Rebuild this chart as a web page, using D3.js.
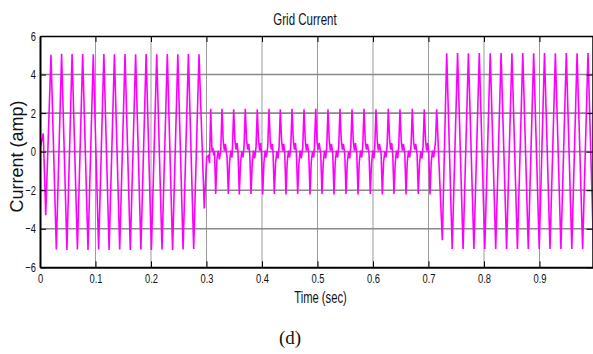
<!DOCTYPE html>
<html>
<head>
<meta charset="utf-8">
<script src="https://cdn.jsdelivr.net/npm/d3@7"></script>
<style>
  body { margin: 0; background: #fff; }
  svg { display: block; }
</style>
</head>
<body>
<svg id="chart" width="593" height="354"></svg>
<script>
// grid current, [time (s), current (A)] vertices
const startUp = [
  [0.0000, 0.15], [0.0059, 0.95], [0.0103, -3.30], [0.0198, 5.02],
  [0.0294, -5.08], [0.0389, 5.08], [0.0485, -5.10], [0.0578, 5.06],
  [0.0674, -5.08], [0.0769, 5.06], [0.0865, -5.10], [0.0960, 5.05],
  [0.1056, -5.08], [0.1151, 5.06], [0.1245, -5.10], [0.1341, 5.05],
  [0.1436, -5.08], [0.1532, 5.06], [0.1627, -5.10], [0.1723, 5.05],
  [0.1818, -5.08], [0.1912, 5.06], [0.2007, -5.10], [0.2103, 5.05],
  [0.2198, -5.08], [0.2294, 5.06], [0.2389, -5.10], [0.2483, 5.05],
  [0.2578, -5.08], [0.2674, 5.06], [0.2769, -5.05], [0.2865, 5.05],
  [0.2960, -2.95]
];

const lowLoad = [
  [0.3003, -0.30], [0.3036, -0.20], [0.3054, -0.60],
  [0.3076, 2.22], [0.3098, 0.05], [0.3115, 0.20], [0.3130, -0.20], [0.3144, 0.05],
  [0.3166, -2.20], [0.3188, -0.40], [0.3211, 0.05], [0.3232, -0.40], [0.3257, 0.05],
  [0.3279, 2.22], [0.3301, 0.55], [0.3322, 0.05], [0.3341, 0.40], [0.3371, -0.30],
  [0.3393, -2.20], [0.3415, -0.55], [0.3438, 0.05], [0.3459, -0.30], [0.3468, 0.25],
  [0.3490, 2.20], [0.3512, 0.60], [0.3533, 0.10], [0.3552, 0.45], [0.3569, -0.10],
  [0.3591, -2.22], [0.3613, -0.55], [0.3636, 0.00], [0.3657, -0.30], [0.3677, 0.30],
  [0.3699, 2.22], [0.3721, 0.65], [0.3742, 0.10], [0.3761, 0.40], [0.3780, -0.15],
  [0.3802, -2.20], [0.3824, -0.60], [0.3847, 0.05], [0.3868, -0.35], [0.3893, 0.25],
  [0.3915, 2.20], [0.3937, 0.60], [0.3958, 0.05], [0.3977, 0.45], [0.3991, -0.10],
  [0.4013, -2.22], [0.4035, -0.55], [0.4058, 0.05], [0.4079, -0.30], [0.4104, 0.30],
  [0.4126, 2.22], [0.4148, 0.55], [0.4169, 0.10], [0.4188, 0.40], [0.4200, -0.15],
  [0.4222, -2.20], [0.4244, -0.60], [0.4267, 0.00], [0.4288, -0.35], [0.4308, 0.25],
  [0.4330, 2.20], [0.4352, 0.60], [0.4373, 0.05], [0.4392, 0.40], [0.4410, -0.10],
  [0.4432, -2.22], [0.4454, -0.55], [0.4477, 0.05], [0.4498, -0.30], [0.4519, 0.30],
  [0.4541, 2.22], [0.4563, 0.65], [0.4584, 0.10], [0.4603, 0.45], [0.4621, -0.15],
  [0.4643, -2.20], [0.4665, -0.60], [0.4688, 0.05], [0.4709, -0.35], [0.4735, 0.25],
  [0.4757, 2.20], [0.4779, 0.60], [0.4800, 0.05], [0.4819, 0.40], [0.4843, -0.10],
  [0.4865, -2.22], [0.4887, -0.55], [0.4910, 0.00], [0.4931, -0.30], [0.4946, 0.30],
  [0.4968, 2.22], [0.4990, 0.55], [0.5011, 0.10], [0.5030, 0.45], [0.5059, -0.15],
  [0.5081, -2.20], [0.5103, -0.60], [0.5126, 0.05], [0.5147, -0.35], [0.5167, 0.25],
  [0.5189, 2.20], [0.5211, 0.60], [0.5232, 0.05], [0.5251, 0.40], [0.5275, -0.10],
  [0.5297, -2.22], [0.5319, -0.55], [0.5342, 0.05], [0.5363, -0.30], [0.5383, 0.30],
  [0.5405, 2.22], [0.5427, 0.65], [0.5448, 0.10], [0.5467, 0.40], [0.5492, -0.15],
  [0.5514, -2.20], [0.5536, -0.60], [0.5559, 0.00], [0.5580, -0.35], [0.5600, 0.25],
  [0.5622, 2.20], [0.5644, 0.60], [0.5665, 0.05], [0.5684, 0.45], [0.5708, -0.10],
  [0.5730, -2.22], [0.5752, -0.55], [0.5775, 0.05], [0.5796, -0.30], [0.5816, 0.30],
  [0.5838, 2.22], [0.5860, 0.55], [0.5881, 0.10], [0.5900, 0.40], [0.5929, -0.15],
  [0.5951, -2.20], [0.5973, -0.60], [0.5996, 0.05], [0.6017, -0.35], [0.6032, 0.25],
  [0.6054, 2.20], [0.6076, 0.60], [0.6097, 0.05], [0.6116, 0.40], [0.6146, -0.10],
  [0.6168, -2.22], [0.6190, -0.55], [0.6213, 0.00], [0.6234, -0.30], [0.6254, 0.30],
  [0.6276, 2.22], [0.6298, 0.65], [0.6319, 0.10], [0.6338, 0.45], [0.6356, -0.15],
  [0.6378, -2.20], [0.6400, -0.60], [0.6423, 0.05], [0.6444, -0.35], [0.6464, 0.25],
  [0.6486, 2.20], [0.6508, 0.60], [0.6529, 0.05], [0.6548, 0.40], [0.6573, -0.10],
  [0.6595, -2.22], [0.6617, -0.55], [0.6640, 0.05], [0.6661, -0.30], [0.6686, 0.30],
  [0.6708, 2.22], [0.6730, 0.55], [0.6751, 0.10], [0.6770, 0.40], [0.6794, -0.15],
  [0.6816, -2.20], [0.6838, -0.60], [0.6861, 0.00], [0.6882, -0.35], [0.6902, 0.25],
  [0.6924, 2.20], [0.6946, 0.60], [0.6967, 0.05], [0.6986, 0.45], [0.7005, -0.10],
  [0.7027, -2.22], [0.7049, -0.55], [0.7072, 0.05], [0.7093, -0.30], [0.7126, 0.50],
  [0.7148, 2.20], [0.7195, -1.00], [0.7249, -4.60]
];

const fullLoad = [
  [0.7328, 5.10], [0.7427, -5.05], [0.7524, 5.12], [0.7623, -5.05],
  [0.7719, 5.10], [0.7818, -5.05], [0.7915, 5.12], [0.8014, -5.05],
  [0.8112, 5.10], [0.8211, -5.05], [0.8308, 5.12], [0.8407, -5.05],
  [0.8503, 5.10], [0.8602, -5.05], [0.8699, 5.12], [0.8798, -5.05],
  [0.8895, 5.10], [0.8995, -5.05], [0.9090, 5.12], [0.9189, -5.05],
  [0.9286, 5.10], [0.9386, -5.05], [0.9483, 5.12], [0.9582, -5.05],
  [0.9677, 5.10], [0.9777, -5.05], [0.9874, 5.12], [0.9973, -5.05]
];

const xTicks = [0, 0.1, 0.2, 0.3, 0.4, 0.5, 0.6, 0.7, 0.8, 0.9];
const yTicks = [-6, -4, -2, 0, 2, 4, 6];

const plot = {left: 40, right: 592.5, top: 36, bottom: 267.3};
const squash = 0.72; // the figure text is horizontally condensed

const svg = d3.select('#chart');

const x = d3.scaleLinear().domain([0, 0.9955]).range([plot.left, plot.right]);
const y = d3.scaleLinear().domain([-6, 6]).range([plot.bottom, plot.top]);

// grid
svg.append('g')
  .selectAll('line')
  .data(xTicks.slice(1))
  .enter()
  .append('line')
  .attr('x1', d => x(d)).attr('x2', d => x(d))
  .attr('y1', plot.top).attr('y2', plot.bottom)
  .attr('stroke', '#9a9a9a')
  .attr('stroke-width', 1);

svg.append('g')
  .selectAll('line')
  .data(yTicks.slice(1, -1))
  .enter()
  .append('line')
  .attr('x1', plot.left).attr('x2', plot.right)
  .attr('y1', d => y(d)).attr('y2', d => y(d))
  .attr('stroke', '#8a8a8a')
  .attr('stroke-width', 1.6);

// waveform
svg.append('clipPath')
  .attr('id', 'plot-clip')
  .append('rect')
  .attr('x', plot.left).attr('y', plot.top)
  .attr('width', plot.right - plot.left).attr('height', plot.bottom - plot.top);

const line = d3.line()
  .x(d => x(d[0]))
  .y(d => y(d[1]));

svg.append('path')
  .datum(startUp.concat(lowLoad, fullLoad))
  .attr('clip-path', 'url(#plot-clip)')
  .attr('d', line)
  .attr('fill', 'none')
  .attr('stroke', '#ff00ff')
  .attr('stroke-width', 1.6)
  .attr('stroke-linejoin', 'miter');

// axes, MATLAB style: ticks point inward, box on all sides
const xAxis = svg.append('g')
  .attr('class', 'axis axis--x')
  .attr('transform', 'translate(0,' + plot.bottom + ')')
  .call(d3.axisBottom(x).tickValues(xTicks).tickFormat(d3.format('')).tickSizeInner(-6).tickSizeOuter(0).tickPadding(6));

const yAxis = svg.append('g')
  .attr('class', 'axis axis--y')
  .attr('transform', 'translate(' + plot.left + ',0)')
  .call(d3.axisLeft(y).tickValues(yTicks).tickSizeInner(-6).tickSizeOuter(0).tickPadding(4));

svg.append('g')
  .attr('transform', 'translate(0,' + plot.top + ')')
  .call(d3.axisTop(x).tickValues(xTicks).tickFormat('').tickSizeInner(-6).tickSizeOuter(0));

svg.append('g')
  .attr('transform', 'translate(' + plot.right + ',0)')
  .call(d3.axisRight(y).tickValues(yTicks).tickFormat('').tickSizeInner(-6).tickSizeOuter(0));

svg.selectAll('.domain').attr('stroke', '#000').attr('stroke-width', 1.5);
svg.selectAll('.tick line').attr('stroke', '#000');
xAxis.select('.domain').attr('stroke-width', 2);
yAxis.select('.domain').attr('stroke-width', 2);

svg.selectAll('.axis text')
  .attr('fill', '#111')
  .style('font-family', '"Liberation Sans", Arial, sans-serif')
  .style('font-size', '13px');
xAxis.selectAll('text').attr('transform', 'scale(' + squash + ',1)');
yAxis.selectAll('text').attr('transform', 'scale(' + squash + ',1)').attr('x', -4 / squash);

// titles
svg.append('text')
  .attr('transform', 'translate(305,25) scale(' + squash + ',1)')
  .attr('text-anchor', 'middle')
  .style('font-family', '"Liberation Sans", Arial, sans-serif')
  .style('font-size', '16px')
  .attr('fill', '#111')
  .text('Grid Current');

svg.append('text')
  .attr('transform', 'translate(320.5,302.5) scale(0.66,1)')
  .attr('text-anchor', 'middle')
  .style('font-family', '"Liberation Sans", Arial, sans-serif')
  .style('font-size', '17px')
  .attr('fill', '#111')
  .text('Time (sec)');

svg.append('text')
  .attr('transform', 'translate(22.7,156.5) rotate(-90)')
  .attr('text-anchor', 'middle')
  .style('font-family', '"Liberation Sans", Arial, sans-serif')
  .style('font-size', '18px')
  .attr('fill', '#111')
  .text('Current (amp)');

svg.append('text')
  .attr('x', 290)
  .attr('y', 344)
  .attr('text-anchor', 'middle')
  .style('font-family', '"Liberation Serif", "Times New Roman", serif')
  .style('font-size', '19px')
  .attr('fill', '#111')
  .text('(d)');
</script>
</body>
</html>
